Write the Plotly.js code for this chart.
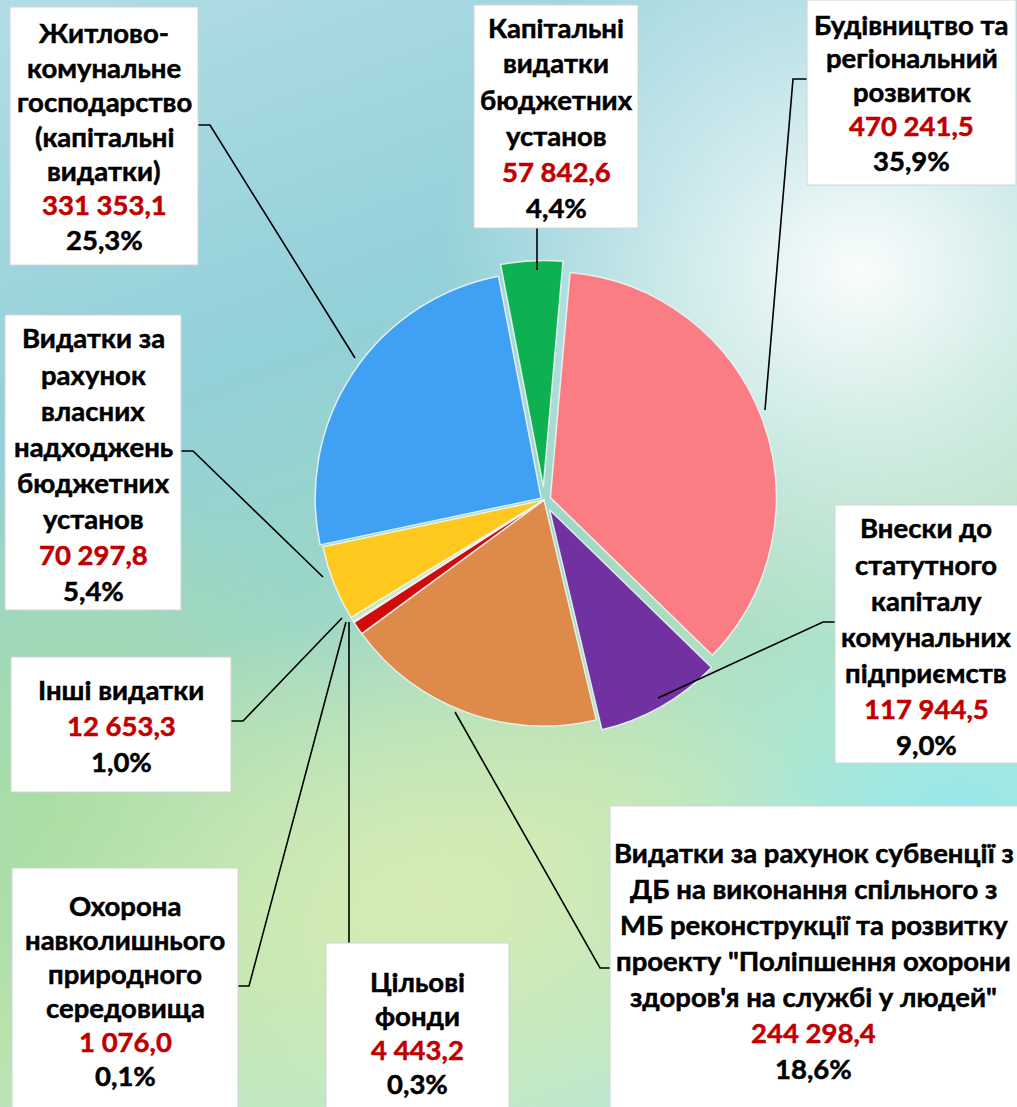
<!DOCTYPE html>
<html>
<head>
<meta charset="utf-8">
<script src="https://cdn.plot.ly/plotly-3.0.1.min.js"></script>
<style>
  html, body { margin: 0; padding: 0; }
  body {
    width: 1017px; height: 1107px; overflow: hidden;
    background:
      radial-gradient(ellipse 420px 380px at 860px 270px, rgba(255,255,255,0.95) 0%, rgba(255,255,255,0) 100%),
      radial-gradient(ellipse 420px 300px at 430px 900px, rgba(214,237,180,0.95) 0%, rgba(214,237,180,0) 100%),
      radial-gradient(ellipse 300px 360px at 60px 820px, rgba(170,222,160,0.9) 0%, rgba(170,222,160,0) 100%),
      radial-gradient(ellipse 380px 320px at 960px 820px, rgba(150,232,238,0.95) 0%, rgba(150,232,238,0) 100%),
      linear-gradient(160deg, #b2dde6 0%, #93d0d8 30%, #9cd7c6 50%, #c2e4b4 70%, #b2e8e4 100%);
  }
  #chart { width: 1017px; height: 1107px; }
</style>
</head>
<body>
<div id="chart"></div>
<script>
// ---- data ----
const labelLines = [
  ['Будівництво та', 'регіональний', 'розвиток'],
  ['Внески до', 'статутного', 'капіталу', 'комунальних', 'підприємств'],
  ['Видатки за рахунок субвенції з', 'ДБ на виконання спільного з', 'МБ реконструкції та розвитку', 'проекту "Поліпшення охорони', 'здоров\'я на службі у людей"'],
  ['Інші видатки'],
  ['Охорона', 'навколишнього', 'природного', 'середовища'],
  ['Цільові', 'фонди'],
  ['Видатки за', 'рахунок', 'власних', 'надходжень', 'бюджетних', 'установ'],
  ['Житлово-', 'комунальне', 'господарство', '(капітальні', 'видатки)'],
  ['Капітальні', 'видатки', 'бюджетних', 'установ']
];
const values = [470241.5, 117944.5, 244298.4, 12653.3, 1076.0, 4443.2, 70297.8, 331353.1, 57842.6];
const colors = ['#F97D83', '#7131A0', '#DD8A4B', '#D10A0A', '#B9D58E', '#CFE6B4', '#FFC81E', '#40A0F4', '#0EB152'];
const pulls  = [0.03, 0.05, 0, 0, 0, 0, 0, 0.015, 0.06];

// ---- layout helpers (positions only, in pixels of the 1017x1107 page) ----
const W = 1017, H = 1107;
const px = x => x / W;
const py = y => 1 - y / H;

const boxes = [
  {x0: 807, x1: 1016, y0: 0,   y1: 185,  cy: 92,  gap: 34, lead: [[807,79],[793,79],[765,410]]},
  {x0: 835, x1: 1020, y0: 505, y1: 763,  cy: 636, gap: 36, lead: [[835,622],[823,622],[658,698]]},
  {x0: 610, x1: 1020, y0: 806, y1: 1110, cy: 960, gap: 36, lead: [[610,968],[600,968],[455,712]]},
  {x0: 11,  x1: 231,  y0: 657, y1: 792,  cy: 725, gap: 36, lead: [[231,721],[243,721],[342,618]]},
  {x0: 12,  x1: 238,  y0: 868, y1: 1110, cy: 990, gap: 34, lead: [[238,986],[249,986],[346,622]]},
  {x0: 326, x1: 509,  y0: 943, y1: 1110, cy: 1032, gap: 34, lead: [[349,943],[349,622]]},
  {x0: 5,   x1: 181,  y0: 315, y1: 610,  cy: 464, gap: 36, lead: [[181,451],[193,451],[323,577]]},
  {x0: 10,  x1: 198,  y0: 7,   y1: 265,  cy: 136, gap: 34.5, lead: [[198,125],[210,125],[355,358]]},
  {x0: 474, x1: 638,  y0: 5,   y1: 228,  cy: 117, gap: 36, lead: [[537,228],[537,270]]}
];

const total = values.reduce((a, b) => a + b, 0);
function fmtValue(v) {
  const s = v.toFixed(1).split('.');
  return s[0].replace(/\B(?=(\d{3})+(?!\d))/g, ' ') + ',' + s[1];
}
function fmtPct(v) {
  return (v / total * 100).toFixed(1).replace('.', ',') + '%';
}

const FONT = 'Lato, "Open Sans", sans-serif';
const FS = 27.5;

const shapes = [];
const annotations = [];
boxes.forEach((b, i) => {
  const d = b.lead.map((p, k) => (k ? 'L' : 'M') + px(p[0]) + ',' + py(p[1])).join(' ');
  shapes.push({type: 'path', xref: 'paper', yref: 'paper', path: d,
               line: {color: '#000', width: 1.6}, layer: 'above'});
  shapes.push({type: 'rect', xref: 'paper', yref: 'paper',
               x0: px(b.x0), x1: px(b.x1), y0: py(b.y1), y1: py(b.y0),
               fillcolor: '#FFFFFF', line: {color: '#D0D4D6', width: 1}, layer: 'above'});
  const lines = labelLines[i].map(t => ({t: t, c: '#000000'}));
  lines.push({t: fmtValue(values[i]), c: '#C00000'});
  lines.push({t: fmtPct(values[i]), c: '#000000'});
  const n = lines.length;
  lines.forEach((ln, k) => {
    const y = b.cy + (k - (n - 1) / 2) * b.gap;
    annotations.push({xref: 'paper', yref: 'paper', x: px((b.x0 + Math.min(b.x1, W)) / 2), y: py(y),
                      xanchor: 'center', yanchor: 'middle', showarrow: false,
                      text: ln.t, font: {family: FONT, size: FS, color: ln.c, weight: 700}});
  });
});

const cx = 544, cyP = 500, r = 226;
const maxPull = Math.max(...pulls);
const half = r * (1 + maxPull);

const trace = {
  type: 'pie',
  labels: labelLines.map(l => l.join(' ')),
  values: values,
  sort: false,
  direction: 'clockwise',
  rotation: 5,
  pull: pulls,
  textinfo: 'none',
  hoverinfo: 'label+value+percent',
  marker: {colors: colors, line: {color: 'rgba(235,245,245,0.9)', width: 1.5}},
  domain: {x: [px(cx - half), px(cx + half)], y: [py(cyP + half), py(cyP - half)]},
  showlegend: false
};

const layout = {
  width: W, height: H,
  margin: {l: 0, r: 0, t: 0, b: 0},
  paper_bgcolor: 'rgba(0,0,0,0)',
  plot_bgcolor: 'rgba(0,0,0,0)',
  showlegend: false,
  shapes: shapes,
  annotations: annotations
};

Plotly.newPlot('chart', [trace], layout, {displayModeBar: false, staticPlot: true}).then(() => {
  // slightly heavier strokes, closer to the original bold face
  document.querySelectorAll('#chart text.annotation-text').forEach(t => {
    const f = t.style.fill || t.getAttribute('fill');
    if (f) { t.style.stroke = f; t.style.strokeWidth = '0.5px'; }
  });
});
</script>
</body>
</html>
